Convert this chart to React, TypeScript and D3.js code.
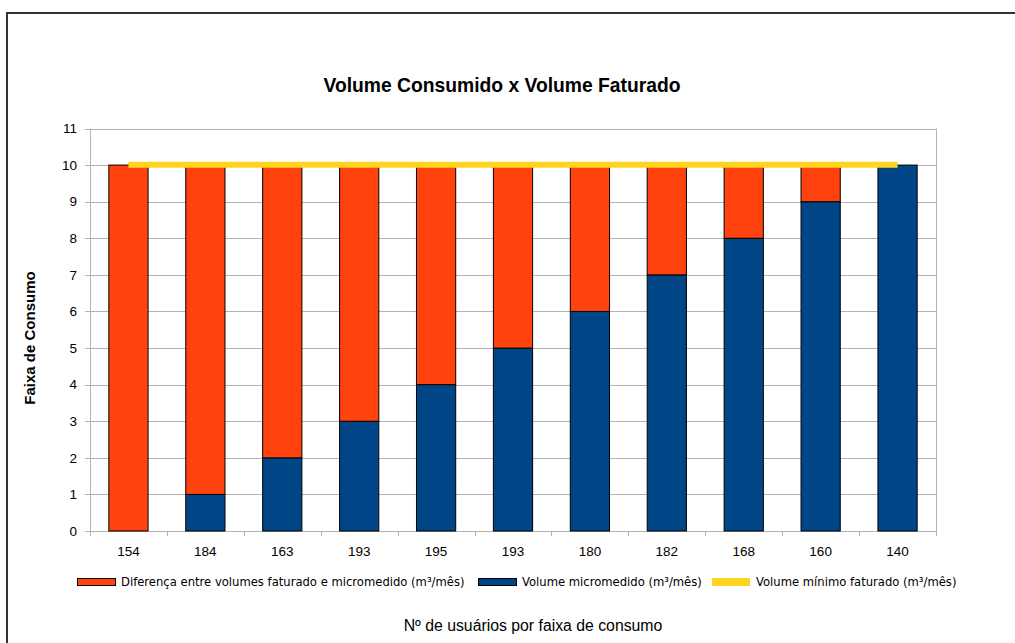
import React, { useEffect, useRef } from "react";
import * as d3 from "d3";

const WIDTH = 1015;
const HEIGHT = 643;
const PLOT = { left: 90, right: 936, top: 128.5, bottom: 531 };
const COLORS = { diff: "#ff420e", micro: "#004586", minimo: "#ffd320" };

// data
const CATEGORIES = ["154", "184", "163", "193", "195", "193", "180", "182", "168", "160", "140"];
const MICROMEDIDO = [0, 1, 2, 3, 4, 5, 6, 7, 8, 9, 10];
const DIFERENCA = [10, 9, 8, 7, 6, 5, 4, 3, 2, 1, 0];
const MINIMO = [10, 10, 10, 10, 10, 10, 10, 10, 10, 10, 10];
const Y_TICKS = [0, 1, 2, 3, 4, 5, 6, 7, 8, 9, 10, 11];
const LEGEND = [
  { label: "Diferença entre volumes faturado e micromedido (m³/mês)", color: COLORS.diff, type: "rect", x: 77 },
  { label: "Volume micromedido (m³/mês)", color: COLORS.micro, type: "rect", x: 478 },
  { label: "Volume mínimo faturado (m³/mês)", color: COLORS.minimo, type: "line", x: 712 },
];

const TEXT_FONT = "'Liberation Sans', Arial, sans-serif";
const LEGEND_FONT = "'DejaVu Sans', Verdana, sans-serif";

export default function App() {
  const ref = useRef<SVGSVGElement>(null);

  useEffect(() => {
    const svg = d3.select(ref.current);
    svg.selectAll("*").remove();

    const x = d3.scaleBand().domain(CATEGORIES.map((c, i) => i + "")).range([PLOT.left, PLOT.right]).paddingInner(0).paddingOuter(0);
    const y = d3.scaleLinear().domain([0, 11]).range([PLOT.bottom, PLOT.top]);
    const barW = x.bandwidth() * 0.51;

    // outer frame
    svg.append("rect").attr("x", 7).attr("y", 13).attr("width", WIDTH + 10).attr("height", HEIGHT + 10)
      .attr("fill", "#fff").attr("stroke", "#2e3436").attr("stroke-width", 2);

    // title
    svg.append("text").attr("x", 502).attr("y", 92).attr("text-anchor", "middle")
      .attr("font-family", TEXT_FONT).attr("font-weight", "bold").attr("font-size", 19.3)
      .attr("fill", "#000").text("Volume Consumido x Volume Faturado");

    // grid
    const grid = svg.append("g").attr("stroke", "#b3b3b3").attr("stroke-width", 1);
    Y_TICKS.forEach((t) => {
      grid.append("line").attr("x1", PLOT.left - 5).attr("x2", PLOT.right)
        .attr("y1", Math.round(y(t)) + 0.5).attr("y2", Math.round(y(t)) + 0.5);
    });
    grid.append("line").attr("x1", PLOT.left + 0.5).attr("x2", PLOT.left + 0.5).attr("y1", PLOT.top).attr("y2", PLOT.bottom);
    grid.append("line").attr("x1", PLOT.right + 0.5).attr("x2", PLOT.right + 0.5).attr("y1", PLOT.top).attr("y2", PLOT.bottom);
    d3.range(CATEGORIES.length + 1).forEach((i) => {
      const xx = Math.round(PLOT.left + i * x.bandwidth()) + 0.5;
      grid.append("line").attr("x1", xx).attr("x2", xx).attr("y1", PLOT.bottom).attr("y2", PLOT.bottom + 5);
    });

    // y tick labels
    svg.append("g").selectAll("text").data(Y_TICKS).join("text")
      .attr("x", 77).attr("y", (d) => y(d)).attr("dy", "0.35em").attr("text-anchor", "end")
      .attr("font-family", TEXT_FONT).attr("font-size", 13.5).attr("fill", "#000").text((d) => d);

    // x tick labels
    svg.append("g").selectAll("text").data(CATEGORIES).join("text")
      .attr("x", (d, i) => x(i + "")! + x.bandwidth() / 2).attr("y", 556).attr("text-anchor", "middle")
      .attr("font-family", TEXT_FONT).attr("font-size", 13.5).attr("fill", "#000").text((d) => d);

    // stacked bars
    const bars = svg.append("g").attr("stroke", "#000").attr("stroke-width", 1);
    CATEGORIES.forEach((c, i) => {
      const cx = x(i + "")! + x.bandwidth() / 2;
      const m = MICROMEDIDO[i];
      const dv = DIFERENCA[i];
      if (m > 0)
        bars.append("rect").attr("x", cx - barW / 2).attr("y", y(m)).attr("width", barW)
          .attr("height", y(0) - y(m)).attr("fill", COLORS.micro);
      if (dv > 0)
        bars.append("rect").attr("x", cx - barW / 2).attr("y", y(m + dv)).attr("width", barW)
          .attr("height", y(m) - y(m + dv)).attr("fill", COLORS.diff);
    });

    // minimum line
    const line = d3.line<number>().x((d, i) => x(i + "")! + x.bandwidth() / 2).y((d) => y(d) - 0.3);
    svg.append("path").attr("d", line(MINIMO)).attr("fill", "none")
      .attr("stroke", COLORS.minimo).attr("stroke-width", 6);

    // axis titles
    svg.append("text").attr("transform", "translate(35,338) rotate(-90)").attr("text-anchor", "middle")
      .attr("font-family", TEXT_FONT).attr("font-weight", "bold").attr("font-size", 15)
      .attr("fill", "#000").text("Faixa de Consumo");
    svg.append("text").attr("x", 533).attr("y", 631).attr("text-anchor", "middle")
      .attr("font-family", TEXT_FONT).attr("font-size", 15.8)
      .attr("fill", "#000").text("Nº de usuários por faixa de consumo");

    // legend
    const lg = svg.append("g");
    LEGEND.forEach((l) => {
      if (l.type === "rect")
        lg.append("rect").attr("x", l.x + 0.5).attr("y", 578.5).attr("width", 38).attr("height", 7)
          .attr("fill", l.color).attr("stroke", "#000").attr("stroke-width", 1);
      else
        lg.append("rect").attr("x", l.x).attr("y", 578).attr("width", 38).attr("height", 8).attr("fill", l.color);
      lg.append("text").attr("x", l.x + 44).attr("y", 582).attr("dy", "0.35em")
        .attr("font-family", LEGEND_FONT).attr("font-size", 11.6).attr("fill", "#000").text(l.label);
    });
  }, []);

  return (
    <svg ref={ref} width={WIDTH} height={HEIGHT}
      style={{ position: "absolute", left: 0, top: 0, background: "#fff" }} />
  );
}
